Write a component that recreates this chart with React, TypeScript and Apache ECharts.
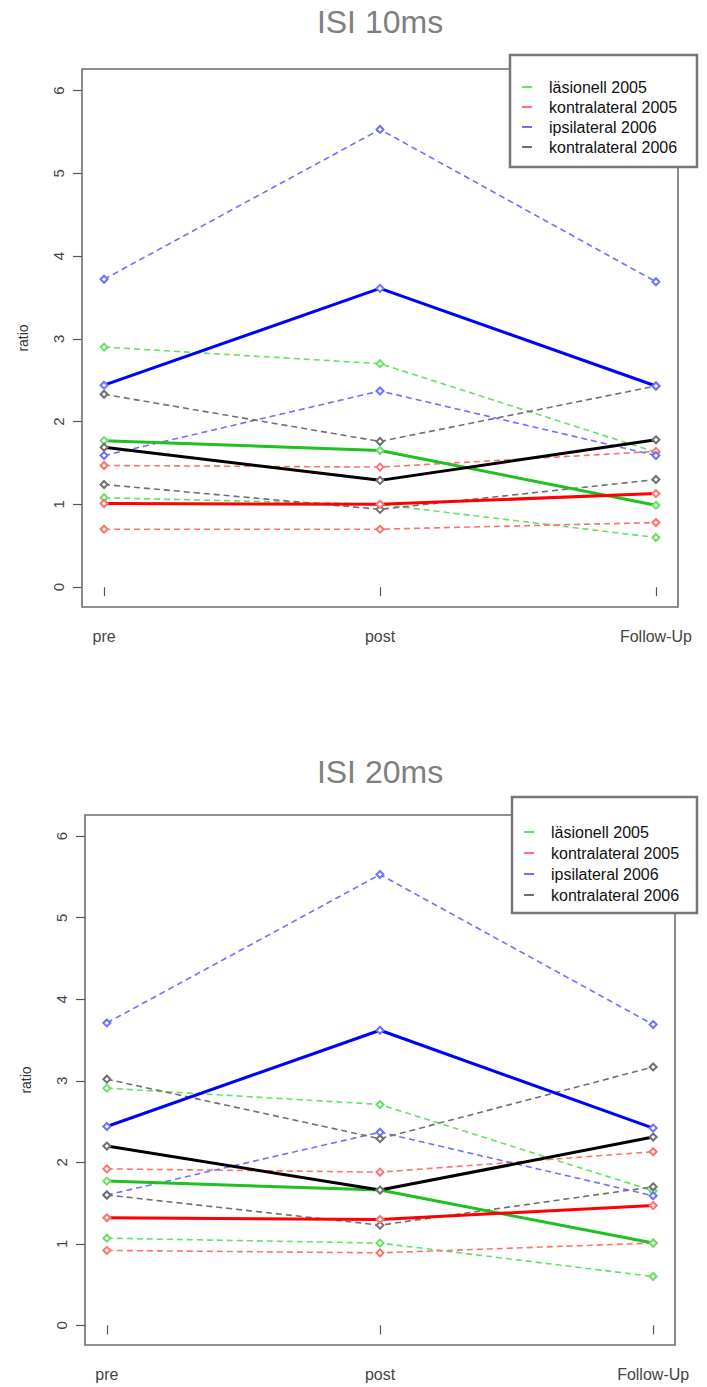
import React, { useEffect, useRef } from "react";
import * as echarts from "echarts";

// ---------- data ----------
const categories = ["pre", "post", "Follow-Up"];
const yTicks = [0, 1, 2, 3, 4, 5, 6];
const titles = ["ISI 10ms", "ISI 20ms"];
const legendNames = ["läsionell 2005", "kontralateral 2005", "ipsilateral 2006", "kontralateral 2006"];
const lightColors = ["#66e066", "#ff7070", "#7070ff", "#707070"];
const darkColors = ["#1fc01f", "#ff0000", "#0000ff", "#000000"];

// ISI 10ms
const isi10_laes_a = [2.9, 2.7, 1.63];
const isi10_laes_b = [1.08, 1.0, 0.6];
const isi10_laes_mean = [1.77, 1.65, 0.99];
const isi10_kontra05_a = [1.47, 1.45, 1.64];
const isi10_kontra05_b = [0.7, 0.7, 0.78];
const isi10_kontra05_mean = [1.01, 1.0, 1.13];
const isi10_ipsi06_a = [3.72, 5.53, 3.69];
const isi10_ipsi06_b = [1.59, 2.37, 1.59];
const isi10_ipsi06_mean = [2.44, 3.61, 2.43];
const isi10_kontra06_a = [2.33, 1.76, 2.43];
const isi10_kontra06_b = [1.24, 0.94, 1.3];
const isi10_kontra06_mean = [1.69, 1.29, 1.78];

// ISI 20ms
const isi20_laes_a = [2.91, 2.71, 1.65];
const isi20_laes_b = [1.07, 1.01, 0.6];
const isi20_laes_mean = [1.77, 1.66, 1.01];
const isi20_kontra05_a = [1.92, 1.88, 2.13];
const isi20_kontra05_b = [0.92, 0.89, 1.01];
const isi20_kontra05_mean = [1.32, 1.3, 1.47];
const isi20_ipsi06_a = [3.71, 5.53, 3.69];
const isi20_ipsi06_b = [1.6, 2.37, 1.59];
const isi20_ipsi06_mean = [2.44, 3.62, 2.42];
const isi20_kontra06_a = [3.02, 2.29, 3.17];
const isi20_kontra06_b = [1.6, 1.23, 1.7];
const isi20_kontra06_mean = [2.2, 1.66, 2.31];

const chartGroups = [
  [
    { a: isi10_laes_a, b: isi10_laes_b, mean: isi10_laes_mean },
    { a: isi10_kontra05_a, b: isi10_kontra05_b, mean: isi10_kontra05_mean },
    { a: isi10_ipsi06_a, b: isi10_ipsi06_b, mean: isi10_ipsi06_mean },
    { a: isi10_kontra06_a, b: isi10_kontra06_b, mean: isi10_kontra06_mean },
  ],
  [
    { a: isi20_laes_a, b: isi20_laes_b, mean: isi20_laes_mean },
    { a: isi20_kontra05_a, b: isi20_kontra05_b, mean: isi20_kontra05_mean },
    { a: isi20_ipsi06_a, b: isi20_ipsi06_b, mean: isi20_ipsi06_mean },
    { a: isi20_kontra06_a, b: isi20_kontra06_b, mean: isi20_kontra06_mean },
  ],
];

const FONT = "'Liberation Sans', Arial, Helvetica, sans-serif";

const gridsLayout = [
  { left: 82, top: 69, width: 596, height: 538 },
  { left: 85, top: 815, width: 590, height: 530 },
];
const titleLayout = [
  { x: 380, y: 22 },
  { x: 380, y: 772 },
];
const legendLayout = [
  { x: 510, y: 55, w: 187, h: 112, firstRow: 32, rowGap: 20 },
  { x: 512, y: 797, w: 185, h: 116, firstRow: 35, rowGap: 21 },
];

const toPts = (vals: number[]) => vals.map((v, i) => [i + 1, v]);

function buildSeries() {
  const series: any[] = [];
  chartGroups.forEach((groups, gi) => {
    groups.forEach((g, k) => {
      [g.a, g.b].forEach((vals) => {
        series.push({
          type: "line",
          name: legendNames[k],
          xAxisIndex: gi,
          yAxisIndex: gi,
          data: toPts(vals),
          symbol: "emptyDiamond",
          symbolSize: 7,
          showAllSymbol: true,
          itemStyle: { color: lightColors[k], borderWidth: 1.3 },
          lineStyle: { color: lightColors[k], width: 1.6, type: [6, 4] },
          silent: true,
          z: 2,
        });
      });
    });
    groups.forEach((g, k) => {
      series.push({
        type: "line",
        name: legendNames[k],
        xAxisIndex: gi,
        yAxisIndex: gi,
        data: toPts(g.mean),
        symbol: "emptyDiamond",
        symbolSize: 7,
        showAllSymbol: true,
        itemStyle: { color: lightColors[k], borderWidth: 1.3 },
        lineStyle: { color: darkColors[k], width: 3, type: "solid" },
        silent: true,
        z: 3,
      });
    });
  });
  return series;
}

function buildGraphic() {
  const els: any[] = [];
  titles.forEach((t, i) => {
    els.push({
      type: "text",
      x: titleLayout[i].x,
      y: titleLayout[i].y,
      style: {
        text: t,
        fontSize: 32,
        fontFamily: FONT,
        fill: "#7f7f7f",
        textAlign: "center",
        textVerticalAlign: "middle",
      },
      z: 100,
    });
  });
  legendLayout.forEach((L) => {
    const children: any[] = [
      {
        type: "rect",
        shape: { x: 0, y: 0, width: L.w, height: L.h },
        style: { fill: "#ffffff", stroke: "#777777", lineWidth: 2.5 },
      },
    ];
    legendNames.forEach((n, k) => {
      const yy = L.firstRow + k * L.rowGap;
      children.push({
        type: "line",
        shape: { x1: 12, y1: yy, x2: 22, y2: yy },
        style: { stroke: lightColors[k], lineWidth: 2 },
      });
      children.push({
        type: "text",
        x: 39,
        y: yy,
        style: {
          text: n,
          fontSize: 16,
          fontFamily: FONT,
          fill: "#111111",
          textAlign: "left",
          textVerticalAlign: "middle",
        },
      });
    });
    els.push({ type: "group", x: L.x, y: L.y, z: 100, children });
  });
  return els;
}

export default function App() {
  const ref = useRef<HTMLDivElement>(null);
  useEffect(() => {
    document.body.style.margin = "0";
    if (!ref.current) return;
    const chart = echarts.init(ref.current, undefined, { renderer: "svg" });
    const grid = gridsLayout.map((g) => ({
      ...g,
      show: true,
      borderColor: "#6e6e6e",
      borderWidth: 1.6,
      backgroundColor: "transparent",
    }));
    const xAxis = gridsLayout.map((_, gi) => ({
      gridIndex: gi,
      type: "value",
      min: 0.92,
      max: 3.08,
      position: "bottom",
      axisLine: { show: false },
      splitLine: { show: false },
      axisTick: {
        show: true,
        customValues: [1, 2, 3],
        length: 9,
        lineStyle: { color: "#555", width: 1.2 },
      },
      axisLabel: {
        customValues: [1, 2, 3],
        formatter: (v: number) => categories[Math.round(v) - 1] ?? "",
        fontSize: 16,
        fontFamily: FONT,
        color: "#444",
        margin: 21,
      },
    }));
    const yAxis = gridsLayout.map((_, gi) => ({
      gridIndex: gi,
      type: "value",
      min: -0.24,
      max: 6.26,
      axisLine: { show: false },
      splitLine: { show: false },
      axisTick: {
        show: true,
        customValues: yTicks,
        length: 9,
        lineStyle: { color: "#555", width: 1.2 },
      },
      axisLabel: {
        customValues: yTicks,
        rotate: 90,
        fontSize: 15,
        fontFamily: FONT,
        color: "#444",
        margin: 16,
      },
      name: "ratio",
      nameLocation: "middle",
      nameRotate: 90,
      nameGap: 52,
      nameTextStyle: { fontSize: 14, fontFamily: FONT, color: "#333" },
    }));
    chart.setOption({
      animation: false,
      backgroundColor: "#ffffff",
      grid,
      xAxis,
      yAxis,
      series: buildSeries(),
      graphic: buildGraphic(),
    });
    return () => chart.dispose();
  }, []);
  return <div ref={ref} style={{ width: 707, height: 1387 }} />;
}
